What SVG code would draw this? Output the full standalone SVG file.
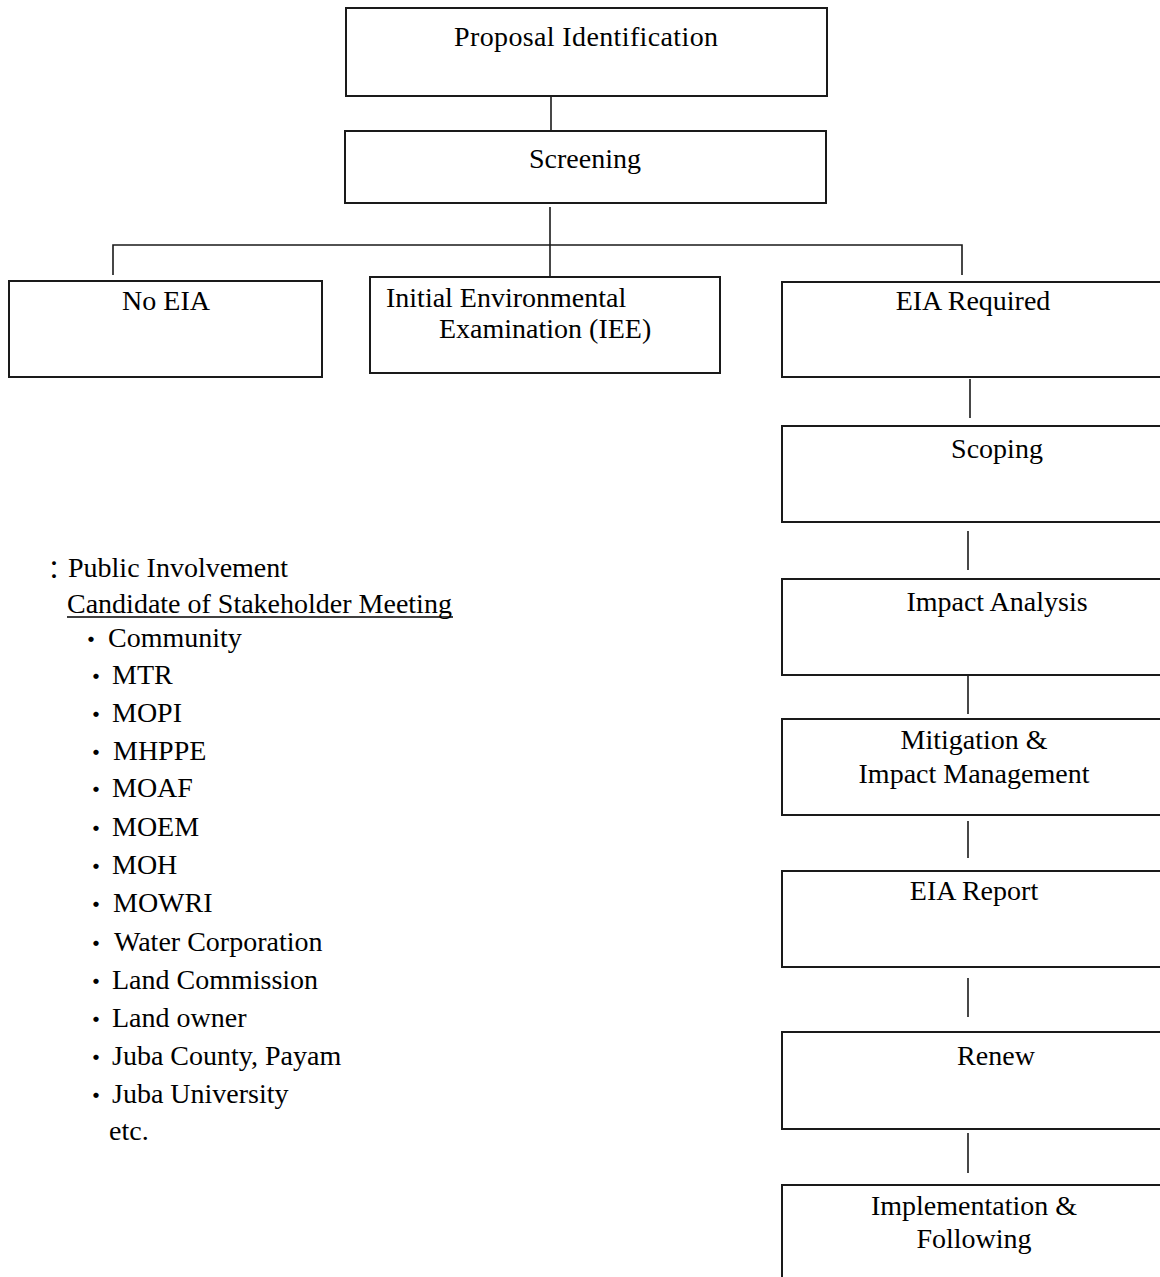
<svg xmlns="http://www.w3.org/2000/svg" width="1160" height="1277" viewBox="0 0 1160 1277">
  <style>
    .box { fill: #ffffff; stroke: #1a1a1a; stroke-width: 2; }
    .link { stroke: #1a1a1a; stroke-width: 1.6; fill: none; }
    text { font-family: "Liberation Serif", "Times New Roman", serif; font-size: 28px; fill: #000000; }
    .c { text-anchor: middle; }
    .jp { font-family: "Noto Sans CJK JP", "Liberation Serif", serif; font-size: 25px; text-anchor: middle; }
  </style>
  <rect width="1160" height="1277" fill="#ffffff"/>

  <!-- connectors -->
  <g id="connectors">
    <line class="link" x1="551" y1="95" x2="551" y2="131"/>
    <line class="link" x1="550" y1="207" x2="550" y2="277"/>
    <polyline class="link" points="113,275 113,245 962,245 962,275"/>
    <line class="link" x1="970" y1="379" x2="970" y2="418"/>
    <line class="link" x1="968" y1="531" x2="968" y2="570"/>
    <line class="link" x1="968" y1="675" x2="968" y2="714"/>
    <line class="link" x1="968" y1="821" x2="968" y2="858"/>
    <line class="link" x1="968" y1="978" x2="968" y2="1017"/>
    <line class="link" x1="968" y1="1133" x2="968" y2="1173"/>
  </g>

  <g id="proposal">
    <rect class="box" x="346" y="8" width="481" height="88"/>
    <text class="c" x="586" y="46" textLength="264">Proposal Identification</text>
  </g>
  <g id="screening">
    <rect class="box" x="345" y="131" width="481" height="72"/>
    <text class="c" x="585" y="168">Screening</text>
  </g>
  <g id="no-eia">
    <rect class="box" x="9" y="281" width="313" height="96"/>
    <text class="c" x="166" y="310">No EIA</text>
  </g>
  <g id="iee">
    <rect class="box" x="370" y="277" width="350" height="96"/>
    <text x="386" y="307">Initial Environmental</text>
    <text x="439" y="338">Examination (IEE)</text>
  </g>
  <g id="eia-required">
    <rect class="box" x="782" y="282" width="390" height="95"/>
    <text class="c" x="973" y="310">EIA Required</text>
  </g>
  <g id="scoping">
    <rect class="box" x="782" y="426" width="390" height="96"/>
    <text class="c" x="997" y="458">Scoping</text>
  </g>
  <g id="impact-analysis">
    <rect class="box" x="782" y="579" width="390" height="96"/>
    <text class="c" x="997" y="611">Impact Analysis</text>
  </g>
  <g id="mitigation">
    <rect class="box" x="782" y="719" width="390" height="96"/>
    <text class="c" x="974" y="749">Mitigation &amp;</text>
    <text class="c" x="974" y="783">Impact Management</text>
  </g>
  <g id="eia-report">
    <rect class="box" x="782" y="871" width="390" height="96"/>
    <text class="c" x="974" y="900">EIA Report</text>
  </g>
  <g id="renew">
    <rect class="box" x="782" y="1032" width="390" height="97"/>
    <text class="c" x="996" y="1065">Renew</text>
  </g>
  <g id="implementation">
    <rect class="box" x="782" y="1185" width="390" height="120"/>
    <text class="c" x="974" y="1215">Implementation &amp;</text>
    <text class="c" x="974" y="1248">Following</text>
  </g>

  <!-- public involvement legend -->
  <g id="public-involvement">
    <text class="jp" x="54" y="579">：</text>
    <text x="68" y="577">Public Involvement</text>
    <text x="67" y="613">Candidate of Stakeholder Meeting</text>
    <line x1="67" y1="617" x2="453" y2="617" stroke="#000" stroke-width="1.6"/>
    <text class="jp" x="91" y="649">・</text>
    <text class="jp" x="96" y="686">・</text>
    <text class="jp" x="96" y="724">・</text>
    <text class="jp" x="96" y="762">・</text>
    <text class="jp" x="96" y="799">・</text>
    <text class="jp" x="96" y="838">・</text>
    <text class="jp" x="96" y="876">・</text>
    <text class="jp" x="96" y="914">・</text>
    <text class="jp" x="96" y="953">・</text>
    <text class="jp" x="96" y="991">・</text>
    <text class="jp" x="96" y="1029">・</text>
    <text class="jp" x="96" y="1067">・</text>
    <text class="jp" x="96" y="1105">・</text>
    <text x="108" y="647">Community</text>
    <text x="112" y="684">MTR</text>
    <text x="112" y="722">MOPI</text>
    <text x="113" y="760">MHPPE</text>
    <text x="112" y="797">MOAF</text>
    <text x="112" y="836">MOEM</text>
    <text x="112" y="874">MOH</text>
    <text x="113" y="912">MOWRI</text>
    <text x="114" y="951">Water Corporation</text>
    <text x="112" y="989">Land Commission</text>
    <text x="112" y="1027">Land owner</text>
    <text x="112" y="1065">Juba County, Payam</text>
    <text x="112" y="1103">Juba University</text>
    <text x="109" y="1140">etc.</text>
  </g>
</svg>
